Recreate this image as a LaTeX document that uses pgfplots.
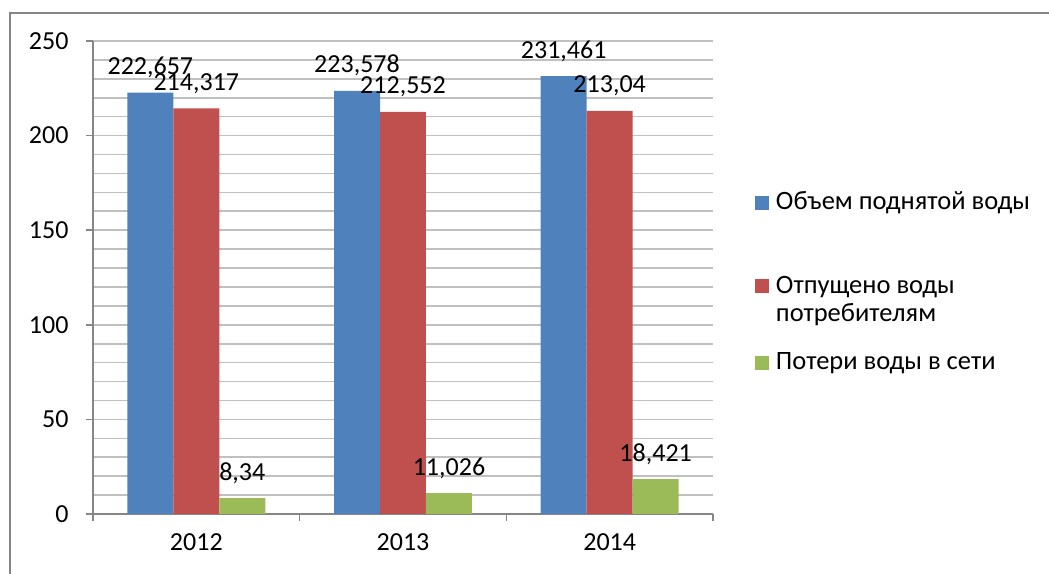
\documentclass[border=0pt]{standalone}
\usepackage{fontspec}
\setmainfont{Carlito}
\usepackage{pgfplots}
\pgfplotsset{compat=1.18}
\definecolor{cblue}{HTML}{4F81BD}
\definecolor{cred}{HTML}{C0504D}
\definecolor{cgreen}{HTML}{9BBB59}
\definecolor{axgray}{HTML}{868686}
\definecolor{gridgray}{HTML}{C0C0C0}
\pgfplotsset{sqlegend/.style={legend image code/.code={\fill[##1] (0bp,0bp) rectangle (14bp,14bp);}}}
\begin{document}
\begin{tikzpicture}[x=1bp,y=1bp]
\useasboundingbox (0,0) rectangle (1049,574);
\begin{axis}[
  at={(93bp,60bp)}, anchor=south west,
  width=620bp, height=473bp, scale only axis,
  xmin=-0.5, xmax=2.5, ymin=0, ymax=250,
  ybar=0pt, bar width=0.2225,
  axis lines=left,
  xtick={-0.5,0.5,1.5,2.5}, x tick label as interval, xticklabels={2012,2013,2014},
  ytick={0,50,...,250}, minor y tick num=4,
  ymajorgrids, yminorgrids,
  major grid style={gridgray, line width=1.6bp},
  minor grid style={gridgray, line width=1.6bp},
  tick align=outside, major tick length=7bp, minor tick length=0pt,
  axis line style={axgray, line width=1.5bp, -},
  tick style={axgray, line width=1.5bp},
  ticklabel style={font=\fontsize{26bp}{30bp}\selectfont, text=black},
  yticklabel style={xshift=-14bp},
  xticklabel style={yshift=-9bp},
  /pgf/number format/assume math mode=true,
  nodes near coords={\pgfmathprintnumber[fixed,precision=3,use comma,assume math mode=true]{\pgfplotspointmeta}},
  every node near coord/.append style={font=\fontsize{26bp}{30bp}\selectfont, anchor=base, yshift=18bp, inner sep=0pt, text=black},
  legend style={at={(1.0677,0.681)}, anchor=north west, draw=none, fill=none,
    inner sep=0pt, outer sep=0pt, row sep=0pt, column sep=7bp,
    font=\fontsize{26.5bp}{28bp}\selectfont, nodes={inner sep=0pt}, cells={anchor=base west}},
]
\addplot[fill=cblue, draw=none, sqlegend] coordinates {(0,222.657) (1,223.578) (2,231.461)};
\addplot[fill=cred, draw=none, sqlegend] coordinates {(0,214.317) (1,212.552) (2,213.04)};
\addplot[fill=cgreen, draw=none, sqlegend] coordinates {(0,8.34) (1,11.026) (2,18.421)};
\addlegendentry{Объем поднятой воды}
\addlegendentry{\begin{tabular}[t]{@{}l@{}}\rule{0pt}{82bp}Отпущено воды\\потребителям\end{tabular}}
\addlegendentry{\rule{0pt}{75bp}Потери воды в сети}
\end{axis}
\draw[axgray, line width=1.5bp] (10,-5) -- (10,561) -- (1055,561);
\end{tikzpicture}
\end{document}
